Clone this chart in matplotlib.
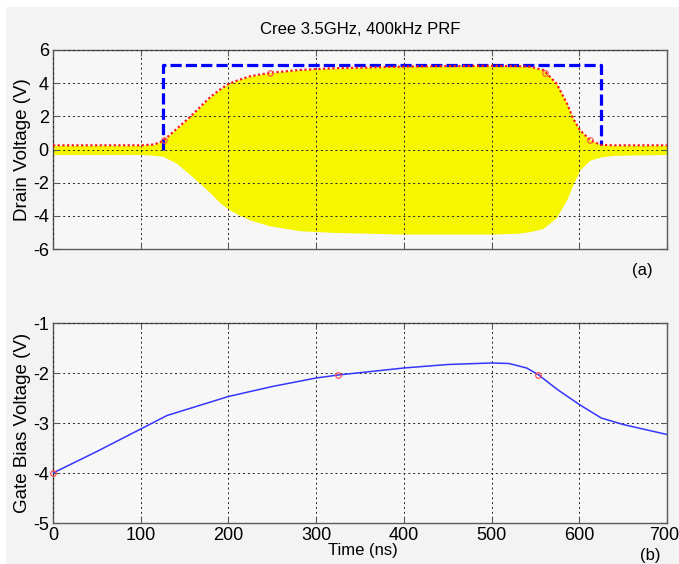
import matplotlib.pyplot as plt
from matplotlib.patches import Rectangle
from matplotlib.transforms import ScaledTranslation

plt.rcParams['font.family'] = ['Liberation Sans', 'DejaVu Sans']
plt.rcParams['axes.unicode_minus'] = False

# Drain voltage: RF envelope (upper / lower) and gate pulse
t_env = [0, 100, 115, 125, 140, 156, 179, 190, 200, 212, 225, 247, 282, 320,
         400, 450, 500, 530, 544, 559, 574, 586, 593, 601, 612, 624, 640, 700]
env_upper = [0.25, 0.25, 0.3, 0.5, 1.2, 1.95, 3.15, 3.6, 3.95, 4.2, 4.42, 4.62,
             4.8, 4.9, 5.0, 5.03, 5.05, 5.02, 4.99, 4.79, 3.98, 2.77, 1.86,
             1.15, 0.59, 0.28, 0.25, 0.25]
env_lower = [-0.3, -0.3, -0.35, -0.4, -0.8, -1.5, -2.6, -3.2, -3.6, -3.95,
             -4.25, -4.6, -4.9, -5.0, -5.1, -5.1, -5.1, -5.05, -4.95, -4.75,
             -4.1, -3.0, -2.1, -1.2, -0.65, -0.45, -0.35, -0.3]
env_mark_t = [127, 247, 561, 612]
env_mark_v = [0.59, 4.62, 4.62, 0.59]

pulse_t = [125, 125, 625, 625]
pulse_v = [0.0, 5.1, 5.1, 0.25]

# Gate bias voltage
gate_t = [0, 50, 100, 130, 200, 250, 300, 325, 400, 450, 500, 520, 540, 553,
          575, 600, 625, 650, 700]
gate_v = [-4.0, -3.57, -3.12, -2.85, -2.47, -2.27, -2.1, -2.04, -1.9, -1.83,
          -1.8, -1.81, -1.9, -2.03, -2.33, -2.63, -2.9, -3.03, -3.23]
gate_mark_t = [0, 325, 553]
gate_mark_v = [-4.0, -2.04, -2.03]

W, H = 679, 564
fig = plt.figure(figsize=(W / 100, H / 100), dpi=100)
fig.patch.set_facecolor('white')
fig.patches.append(Rectangle((6 / W, 0), 1, 1 - 7 / H, transform=fig.transFigure,
                             facecolor='#f3f3f3', edgecolor='none', zorder=-10))

ax1 = fig.add_axes([53 / W, 1 - 249 / H, 614 / W, 199 / H])
ax2 = fig.add_axes([53 / W, 1 - 523 / H, 614 / W, 200 / H])

for ax in (ax1, ax2):
    ax.set_facecolor('#f7f7f7')
    ax.set_xlim(0, 700)
    ax.set_xticks(range(0, 701, 100))
    ax.grid(True, color='#222222', linestyle=(0, (2, 3)), linewidth=0.7)
    ax.set_axisbelow(False)
    for s in ax.spines.values():
        s.set_color('#5a5a5a')
        s.set_linewidth(1.0)
    ax.tick_params(direction='in', length=4, width=0.8, color='#5a5a5a',
                   top=True, right=True, labelsize=13, pad=3)

# (a) drain voltage
ax1.fill_between(t_env, env_lower, env_upper, color='#f6f600', linewidth=0,
                 zorder=2)
ax1.plot(pulse_t, pulse_v, color='#0000ff', linewidth=2.3,
         linestyle=(0, (3.5, 1.3)), zorder=3)
ax1.plot(t_env, env_upper, color='#ff1a1a', linewidth=1.6,
         linestyle=(0, (1, 1.1)), zorder=4)
ax1.plot(env_mark_t, env_mark_v, 'o', markersize=4, markerfacecolor='none',
         markeredgecolor='#ff5050', markeredgewidth=0.8, zorder=5)
ax1.set_ylim(-6, 6)
ax1.set_yticks(range(-6, 7, 2))
ax1.tick_params(labelbottom=False)

# (b) gate bias voltage
ax2.plot(gate_t, gate_v, color='#3535ff', linewidth=1.1, zorder=3)
ax2.plot(gate_mark_t, gate_mark_v, 'o', markersize=4, markerfacecolor='none',
         markeredgecolor='#ff4040', markeredgewidth=0.8, zorder=4,
         clip_on=False)
ax2.set_ylim(-5, -1)
ax2.set_yticks(range(-5, 0))

# keep the last time label inside the figure edge
last = ax2.get_xticklabels()[-1]
last.set_transform(last.get_transform()
                   + ScaledTranslation(-3 / 100, 0, fig.dpi_scale_trans))

fig.text(360 / W, 1 - 29 / H, 'Cree 3.5GHz, 400kHz PRF', ha='center',
         va='center', fontsize=12)
fig.text(23 / W, 1 - 150 / H, 'Drain Voltage (V)', rotation=90, ha='center',
         va='center', fontsize=13.5)
fig.text(23 / W, 1 - 423 / H, 'Gate Bias Voltage (V)', rotation=90,
         ha='center', va='center', fontsize=13.5)
fig.text(363 / W, 1 - 550 / H, 'Time (ns)', ha='center', va='center',
         fontsize=12)
fig.text(642 / W, 1 - 270 / H, '(a)', ha='center', va='center', fontsize=12)
fig.text(650 / W, 1 - 563 / H, '(b)', ha='center', va='bottom', fontsize=12)

fig.savefig('out.png', dpi=100, facecolor=fig.get_facecolor())
